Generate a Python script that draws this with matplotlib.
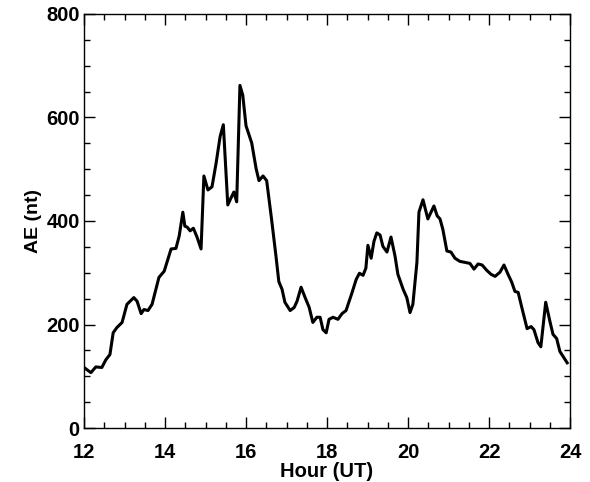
import matplotlib
matplotlib.use("Agg")
import matplotlib.pyplot as plt
from matplotlib.ticker import MultipleLocator

# AE index trace
hour = [12.00, 12.17, 12.29, 12.44, 12.54, 12.64, 12.72, 12.81, 12.94, 13.06,
        13.23, 13.31, 13.41, 13.48, 13.58, 13.68, 13.85, 13.98, 14.15, 14.27,
        14.35, 14.44, 14.49, 14.55, 14.62, 14.70, 14.79, 14.89, 14.96, 15.06,
        15.16, 15.26, 15.36, 15.44, 15.55, 15.62, 15.70, 15.77, 15.85, 15.92,
        16.00, 16.14, 16.25, 16.32, 16.42, 16.51, 16.63, 16.74, 16.81, 16.89,
        16.96, 17.09, 17.19, 17.26, 17.36, 17.46, 17.56, 17.65, 17.75, 17.83,
        17.90, 17.98, 18.05, 18.15, 18.27, 18.37, 18.47, 18.62, 18.72, 18.80,
        18.89, 18.96, 19.01, 19.09, 19.16, 19.23, 19.31, 19.38, 19.48, 19.58,
        19.68, 19.75, 19.88, 19.97, 20.05, 20.12, 20.22, 20.27, 20.37, 20.49,
        20.64, 20.72, 20.79, 20.86, 20.96, 21.06, 21.16, 21.28, 21.41, 21.53,
        21.63, 21.73, 21.83, 21.94, 22.05, 22.15, 22.27, 22.37, 22.47, 22.56,
        22.64, 22.72, 22.81, 22.94, 23.04, 23.11, 23.21, 23.28, 23.40, 23.51,
        23.58, 23.67, 23.75, 23.93]
ae = [117, 107, 118, 117, 132, 142, 184, 194, 204, 239,
      252, 245, 221, 229, 227, 239, 291, 303, 346, 347,
      371, 417, 390, 388, 381, 386, 369, 346, 487, 460,
      466, 511, 563, 586, 431, 443, 456, 437, 662, 643,
      584, 551, 501, 478, 487, 478, 404, 332, 283, 268,
      243, 227, 233, 245, 272, 252, 233, 204, 214, 214,
      190, 184, 210, 214, 210, 221, 227, 262, 287, 299,
      295, 309, 353, 328, 361, 377, 373, 351, 340, 369,
      332, 297, 268, 252, 223, 239, 320, 417, 441, 404,
      429, 410, 404, 384, 342, 340, 328, 322, 320, 318,
      307, 317, 315, 305, 297, 293, 301, 315, 297, 282,
      264, 262, 233, 192, 196, 190, 165, 157, 243, 204,
      181, 173, 148, 126]

xticks = [12, 14, 16, 18, 20, 22, 24]
yticks = [0, 200, 400, 600, 800]

plt.rcParams['font.family'] = ['Liberation Sans', 'DejaVu Sans']

fig = plt.figure(figsize=(5.9, 4.82), dpi=100)
ax = fig.add_axes([0.1424, 0.112, 0.8237, 0.859])

ax.plot(hour, ae, color='black', lw=2.2, solid_joinstyle='round')

ax.set_xlim(12, 24)
ax.set_ylim(0, 800)
ax.set_xticks(xticks)
ax.set_yticks(yticks)
ax.xaxis.set_minor_locator(MultipleLocator(0.5))
ax.yaxis.set_minor_locator(MultipleLocator(50))
ax.tick_params(which='both', direction='in', top=True, right=True, width=1.0)
ax.tick_params(which='major', length=8, labelsize=14.5)
ax.tick_params(axis='x', which='major', pad=11)
ax.tick_params(axis='y', which='major', pad=3)
ax.tick_params(which='minor', length=4)
for lab in ax.get_xticklabels() + ax.get_yticklabels():
    lab.set_fontweight('bold')
for s in ax.spines.values():
    s.set_linewidth(1.0)

ax.set_xlabel('Hour (UT)', fontsize=14.5, fontweight='bold', labelpad=0)
ax.set_ylabel('AE (nt)', fontsize=14, fontweight='bold', labelpad=3)

fig.savefig('out.png', dpi=100)
